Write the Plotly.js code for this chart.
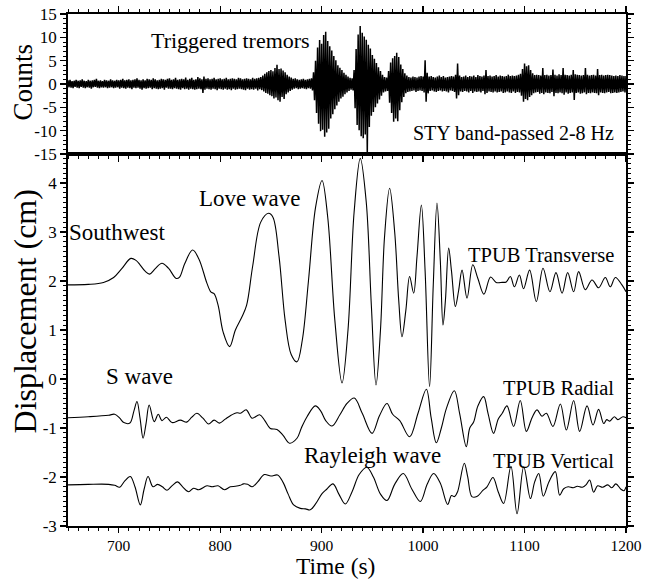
<!DOCTYPE html>
<html>
<head>
<meta charset="utf-8">
<script src="https://cdn.plot.ly/plotly-3.0.1.min.js"></script>
<style>html,body{margin:0;padding:0;background:#fff;}#chart{width:646px;height:580px;}</style>
</head>
<body>
<div id="chart"></div>
<script>
// ---- Top panel: STY band-passed 2-8 Hz (counts), one sample per second from 650 s ----
const tremorStart = 650;
const tremorStep = 1;
const tremorCounts = [
0.8,-0.7,0.9,-0.8,0.6,-0.9,0.7,-0.6,0.9,-0.8,
0.7,-0.9,0.8,-0.6,1.0,-0.8,0.7,-0.9,0.6,-0.7,
0.9,-0.8,0.7,-1.0,0.8,-0.7,0.9,-0.6,1.1,-0.8,
0.7,-0.9,0.8,-0.7,0.6,-0.8,0.9,-0.7,0.8,-0.9,
0.7,-0.8,1.0,-0.7,0.8,-0.9,0.7,-0.8,0.9,-0.7,
0.8,-1.0,0.9,-0.8,1.1,-0.9,0.8,-1.0,0.9,-0.8,
1.0,-0.9,0.8,-1.1,0.9,-0.8,1.0,-0.9,1.2,-0.8,
0.9,-1.0,0.8,-1.2,1.0,-0.9,0.8,-1.0,1.1,-0.9,
1.0,-0.8,0.9,-1.1,1.2,-0.9,1.0,-1.0,0.8,-1.1,
0.9,-1.0,1.1,-0.9,1.0,-1.2,0.9,-0.8,1.1,-1.0,
1.2,-1.0,0.9,-1.1,1.0,-0.9,1.3,-1.0,0.9,-1.1,
1.0,-1.2,1.1,-0.9,1.0,-1.1,1.4,-1.0,0.9,-1.2,
1.1,-1.0,1.3,-1.1,0.9,-1.2,1.0,-1.1,1.5,-1.0,
1.2,-1.1,1.0,-1.9,1.6,-1.2,1.1,-1.0,1.2,-1.1,
1.0,-1.2,1.1,-1.0,1.3,-1.1,1.0,-1.3,1.1,-1.0,
1.2,-1.1,1.0,-1.2,1.1,-1.0,1.3,-1.2,1.0,-1.1,
1.1,-1.3,1.2,-1.0,1.1,-1.2,1.0,-1.1,1.3,-1.0,
1.2,-1.1,1.0,-1.2,1.1,-1.3,1.2,-1.0,1.1,-1.2,
1.0,-1.1,1.3,-1.2,1.1,-1.0,1.2,-1.4,1.3,-1.1,
1.5,-1.3,1.8,-1.6,2.2,-1.9,2.5,-2.1,2.8,-2.4,
3.0,-2.6,2.7,-3.1,3.4,-2.9,4.1,-3.5,3.2,-3.8,
3.3,-2.8,2.9,-3.2,2.5,-2.2,2.0,-1.8,1.6,-1.5,
1.4,-1.2,1.1,-1.0,1.2,-0.9,1.0,-1.1,0.9,-1.0,
1.0,-0.9,1.1,-1.0,0.9,-1.1,1.0,-0.9,1.1,-1.0,
1.2,-1.4,2.5,-3.5,5.0,-6.2,7.8,-8.5,9.4,-10.1,
8.6,-9.8,10.5,-11.3,11.2,-10.4,9.2,-9.6,8.1,-7.4,
7.2,-6.5,6.0,-5.4,5.1,-4.6,4.0,-3.8,3.5,-3.1,
3.0,-2.7,2.4,-2.2,2.0,-1.8,1.6,-1.5,1.3,-1.2,
1.2,-1.4,3.0,-5.2,7.5,-8.8,10.6,-9.9,12.4,-11.2,
11.0,-11.6,10.2,-10.8,9.5,-14.8,8.4,-9.2,7.6,-6.8,
6.2,-6.0,5.4,-5.0,4.5,-4.2,3.6,-3.3,2.8,-2.5,
2.0,-1.8,1.5,-1.6,1.4,-1.5,2.8,-4.0,4.6,-6.2,
5.5,-8.1,6.0,-7.4,6.7,-8.0,5.8,-5.6,4.2,-3.9,
3.2,-2.8,2.3,-2.0,1.8,-1.7,1.5,-1.6,1.4,-1.5,
1.6,-1.4,1.5,-1.7,1.4,-1.5,1.6,-1.4,1.7,-1.5,
1.6,-1.8,5.1,-3.8,2.4,-2.0,1.6,-1.5,1.7,-1.4,
1.5,-1.6,1.4,-1.7,1.6,-1.5,1.8,-1.4,1.5,-1.6,
1.7,-1.5,1.4,-1.6,1.5,-1.8,1.6,-1.4,1.7,-1.5,
1.6,-1.7,2.0,-3.1,4.4,-2.4,1.8,-1.6,1.5,-1.7,
1.6,-1.5,1.8,-1.6,1.5,-1.8,1.7,-1.5,1.6,-1.9,
1.8,-1.6,1.5,-1.7,1.9,-1.6,1.7,-1.8,1.6,-1.5,
1.8,-2.2,3.0,-1.9,1.7,-1.6,1.8,-1.7,1.6,-1.8,
1.7,-1.6,1.9,-1.8,1.6,-1.7,1.8,-1.6,1.7,-1.9,
1.6,-1.8,1.7,-1.6,2.0,-1.8,1.7,-1.9,1.8,-1.6,
1.7,-1.9,1.8,-1.7,2.0,-1.8,2.2,-2.5,3.2,-3.8,
4.4,-3.2,3.8,-3.5,4.0,-2.8,3.0,-2.4,2.3,-2.0,
1.9,-1.8,2.0,-1.7,1.9,-2.1,1.8,-1.9,3.4,-2.2,
1.9,-1.8,2.0,-1.9,1.8,-2.0,1.9,-1.7,3.1,-2.6,
2.0,-1.9,1.8,-2.0,2.1,-1.8,1.9,-2.0,3.4,-2.3,
2.0,-1.8,1.9,-2.1,1.8,-1.9,2.0,-1.8,3.0,-3.4,
2.1,-1.9,2.0,-1.8,1.9,-2.1,1.8,-2.0,1.9,-1.8,
3.4,-2.2,2.0,-1.9,1.8,-2.0,1.9,-1.8,2.0,-1.9,
1.8,-2.0,3.2,-2.4,1.9,-1.8,2.0,-1.9,1.8,-2.0,
1.9,-1.8,2.0,-1.7,1.9,-2.0,1.8,-1.9,1.7,-1.8,
1.8,-1.9,1.7,-1.8,1.9,-1.7,1.8,-1.6,1.7,-1.8,
1.7
];

// ---- Bottom panel: TPUB displacement (cm), offset traces ----
const transTime = [650,670,685,695,703,712,717,721,726,730.4,736,742.6,749,756.7,760,765,772.8,779,787,791,794,798,803,809.3,815,821.5,826,832,840,847.7,852,858,864,870,875.7,881,887,894,900.4,906,913,920.1,926,932,938.1,944,949,953.6,958,962,967,972,976,979.2,983,986.7,990.7,994,998.3,1002,1006.4,1010,1013.7,1017,1019.6,1022,1025.2,1028,1031.8,1035,1038.4,1043.3,1049,1054,1060,1066.5,1072,1078,1082,1086,1090,1094.9,1099,1105,1111.6,1118.2,1125,1131,1137,1142.5,1148.4,1153.3,1159.9,1166.5,1173,1179.6,1184.5,1189.5,1196,1200];
const transDisp = [1.92,1.93,1.97,2.07,2.25,2.46,2.42,2.33,2.2,2.14,2.25,2.36,2.26,2.05,2.08,2.35,2.63,2.45,1.95,1.77,1.74,1.5,0.95,0.66,1.0,1.27,1.5,2.3,3.2,3.38,3.3,2.5,1.2,0.5,0.35,0.8,2.0,3.5,4.05,3.3,1.2,-0.08,1.0,3.4,4.5,3.6,1.5,-0.12,1.0,2.9,3.89,3.0,1.6,0.86,1.4,2.09,1.75,2.5,3.55,2.2,-0.16,1.9,3.59,2.4,1.1,1.6,2.67,2.2,1.48,1.8,2.22,1.65,2.33,2.05,1.73,2.08,1.97,1.97,1.98,2.09,1.88,2.12,1.84,2.22,1.58,2.26,1.78,2.17,1.75,2.17,1.78,2.19,1.82,2.02,1.86,2.07,1.88,2.07,1.92,1.78];

const radTime = [650,670,690,696,701,705,711,715,718,721,724,727,730,735,739,742.6,747,752.5,760.7,767,772,777,783,788.6,794,799.4,805,810,816.6,820,825.7,831.4,838.9,844,849.4,856,862,868.4,875.7,880,885.6,893.8,899,904,910.2,918,925,932.2,940,949.7,957,964.4,970,977,986.7,995,1003.2,1008,1013,1018,1023,1030.8,1036,1042.6,1046,1049.8,1054,1059.7,1064,1069.5,1074,1078,1082.7,1089.2,1095.8,1101.8,1107.4,1112.3,1117.2,1121.5,1128,1135.3,1141.2,1148.4,1154.3,1161.6,1167.5,1173,1178,1181,1184,1188.5,1192,1197,1200];
const radDisp = [-0.79,-0.77,-0.74,-0.72,-0.8,-0.89,-0.9,-0.65,-0.46,-0.8,-1.21,-0.9,-0.53,-0.87,-0.72,-0.85,-0.78,-0.89,-0.84,-0.88,-0.78,-0.7,-0.8,-0.92,-0.84,-0.9,-0.82,-0.75,-0.69,-0.7,-0.63,-0.8,-0.73,-0.85,-1.01,-1.03,-1.15,-1.31,-1.21,-1.0,-0.77,-0.55,-0.65,-0.85,-0.96,-0.73,-0.5,-0.39,-0.7,-1.11,-0.75,-0.5,-0.72,-0.85,-1.18,-0.7,-0.21,-0.8,-1.3,-1.0,-0.6,-0.24,-0.7,-1.38,-1.0,-0.88,-0.55,-0.36,-0.7,-1.11,-0.82,-0.7,-0.55,-0.97,-0.44,-1.07,-0.79,-0.63,-0.76,-0.7,-0.97,-0.51,-1.04,-0.44,-1.07,-0.55,-0.94,-0.62,-0.91,-0.83,-0.86,-0.77,-0.83,-0.77,-0.79];

const vertTime = [650,670,690,696,700.9,706,711.4,716,721.3,725,728.9,733.8,738.4,743,747.6,753,758,763,768.9,773.8,779,787,792,797.9,804.1,810,815,819.8,823,827,831.4,837,843.5,850,856.6,862,867,872.4,879,884,888.8,894,900.4,905,911.2,917,923.3,930,937,944.5,951,958,964.4,972,980.5,989,997.3,1004,1010.4,1017,1024.2,1028,1031,1034,1040.6,1044,1048.1,1053,1058.7,1063,1068.9,1074,1079.4,1086.6,1092.6,1099.2,1105.8,1110,1114,1118.5,1124,1130.3,1134.6,1138.6,1143,1148,1152,1157,1161,1164.2,1168.1,1172,1177,1182,1186,1190,1195,1198,1200];
const vertDisp = [-2.16,-2.15,-2.15,-2.17,-2.21,-2.08,-1.99,-2.2,-2.57,-2.25,-1.99,-2.2,-2.15,-2.2,-2.27,-2.17,-2.1,-2.2,-2.3,-2.23,-2.26,-2.18,-2.2,-2.18,-2.26,-2.2,-2.19,-2.17,-2.14,-2.15,-2.2,-2.1,-1.95,-1.98,-1.96,-2.11,-2.35,-2.57,-2.64,-2.65,-2.67,-2.55,-2.34,-2.25,-2.14,-2.35,-2.55,-2.3,-1.95,-1.8,-2.0,-2.35,-2.48,-2.15,-1.93,-2.25,-2.5,-2.15,-1.93,-2.13,-2.56,-2.38,-2.4,-2.3,-1.72,-2.0,-2.4,-2.4,-2.28,-2.2,-2.01,-2.3,-2.54,-1.78,-2.75,-1.79,-2.44,-2.1,-1.93,-2.39,-2.1,-1.89,-2.37,-2.24,-2.2,-2.22,-2.19,-2.21,-2.15,-2.06,-2.31,-2.18,-2.21,-2.16,-2.22,-2.14,-2.25,-2.28,-2.2];

const countTickVals = [-15,-10,-5,0,5,10,15];
const countTickText = ['-15','-10','-5','0','5','10','15'];
const dispTickVals = [-3,-2,-1,0,1,2,3,4];
const dispTickText = ['-3','-2','-1','0','1','2','3','4'];

const FONT = 'Liberation Serif, Times New Roman, serif';
const lineStyle = {color:'#000', width:1.1, shape:'spline', smoothing:1};

const traces = [
  {x0: tremorStart, dx: tremorStep, y: tremorCounts, xaxis:'x2', yaxis:'y2', mode:'lines',
   line:{color:'#000', width:1.5}, hoverinfo:'skip', showlegend:false},
  {x: transTime, y: transDisp, xaxis:'x', yaxis:'y', mode:'lines', line: lineStyle, showlegend:false},
  {x: radTime, y: radDisp, xaxis:'x', yaxis:'y', mode:'lines', line: lineStyle, showlegend:false},
  {x: vertTime, y: vertDisp, xaxis:'x', yaxis:'y', mode:'lines', line: lineStyle, showlegend:false}
];

const axBase = {
  showgrid:false, zeroline:false, showline:true, linecolor:'#000', linewidth:1.8,
  ticks:'outside', tickcolor:'#000', tickwidth:1.2, ticklen:6,
  tickfont:{family:FONT, size:17, color:'#000'}
};
const split = 372/512;

const layout = {
  width:646, height:580,
  margin:{l:68, r:20, t:14, b:54, pad:0},
  paper_bgcolor:'#fff', plot_bgcolor:'#fff',
  font:{family:FONT, color:'#000'},
  showlegend:false,
  xaxis: Object.assign({}, axBase, {
    domain:[0,1], anchor:'y', range:[650,1200], tickmode:'linear', tick0:0, dtick:100, mirror:true,
    ticklen:5, tickfont:{family:FONT, size:15.5, color:'#000'},
    minor:{tickmode:'linear', tick0:0, dtick:10, ticks:'outside', ticklen:3.5, tickcolor:'#000', tickwidth:1, showgrid:false}
  }),
  yaxis: Object.assign({}, axBase, {
    domain:[0, split], anchor:'x', range:[-3, 4.59], tickmode:'array', tickvals:dispTickVals, ticktext:dispTickText, mirror:'ticks',
    minor:{tickmode:'linear', tick0:0, dtick:0.1, ticks:'outside', ticklen:3.5, tickcolor:'#000', tickwidth:1, showgrid:false}
  }),
  xaxis2: Object.assign({}, axBase, {
    domain:[0,1], anchor:'y2', range:[650,1200], tickmode:'linear', tick0:0, dtick:100, mirror:'ticks', showticklabels:false,
    minor:{tickmode:'linear', tick0:0, dtick:10, ticks:'outside', ticklen:3.5, tickcolor:'#000', tickwidth:1, showgrid:false}
  }),
  yaxis2: Object.assign({}, axBase, {
    domain:[split, 1], anchor:'x2', range:[-15, 15], tickmode:'array', tickvals:countTickVals, ticktext:countTickText, mirror:'ticks',
    minor:{tickmode:'linear', tick0:0, dtick:1, ticks:'outside', ticklen:3.5, tickcolor:'#000', tickwidth:1, showgrid:false}
  }),
  annotations: [
    {text:'Counts', xref:'paper', yref:'paper', x:-0.08, y:0.867, textangle:-90, showarrow:false, xanchor:'center', yanchor:'middle', font:{family:FONT, size:27}},
    {text:'Displacement (cm)', xref:'paper', yref:'paper', x:-0.078, y:0.42, textangle:-90, showarrow:false, xanchor:'center', yanchor:'middle', font:{family:FONT, size:32}},
    {text:'Time (s)', xref:'paper', yref:'paper', x:0.4785, y:-0.1045, showarrow:false, xanchor:'center', yanchor:'bottom', borderpad:0, font:{family:FONT, size:23.5}},
    {text:'Triggered tremors', xref:'x2', yref:'y2', x:810, y:9.4, showarrow:false, xanchor:'center', yanchor:'middle', font:{family:FONT, size:22}},
    {text:'STY band-passed 2-8 Hz', xref:'x2', yref:'y2', x:1190, y:-10.5, showarrow:false, xanchor:'right', yanchor:'middle', font:{family:FONT, size:20}},
    {text:'Love wave', xref:'x', yref:'y', x:829.7, y:3.69, showarrow:false, xanchor:'center', yanchor:'middle', font:{family:FONT, size:23}},
    {text:'Southwest', xref:'x', yref:'y', x:698.6, y:2.98, showarrow:false, xanchor:'center', yanchor:'middle', font:{family:FONT, size:23}},
    {text:'S wave', xref:'x', yref:'y', x:720.3, y:0.06, showarrow:false, xanchor:'center', yanchor:'middle', font:{family:FONT, size:23}},
    {text:'Rayleigh wave', xref:'x', yref:'y', x:950, y:-1.57, showarrow:false, xanchor:'center', yanchor:'middle', font:{family:FONT, size:23}},
    {text:'TPUB Transverse', xref:'x', yref:'y', x:1190.5, y:2.53, showarrow:false, xanchor:'right', yanchor:'middle', font:{family:FONT, size:20.5}},
    {text:'TPUB Radial', xref:'x', yref:'y', x:1190.5, y:-0.18, showarrow:false, xanchor:'right', yanchor:'middle', font:{family:FONT, size:20.5}},
    {text:'TPUB Vertical', xref:'x', yref:'y', x:1190.5, y:-1.67, showarrow:false, xanchor:'right', yanchor:'middle', font:{family:FONT, size:20.5}}
  ]
};

Plotly.newPlot('chart', traces, layout, {displayModeBar:false, staticPlot:true});
</script>
</body>
</html>
